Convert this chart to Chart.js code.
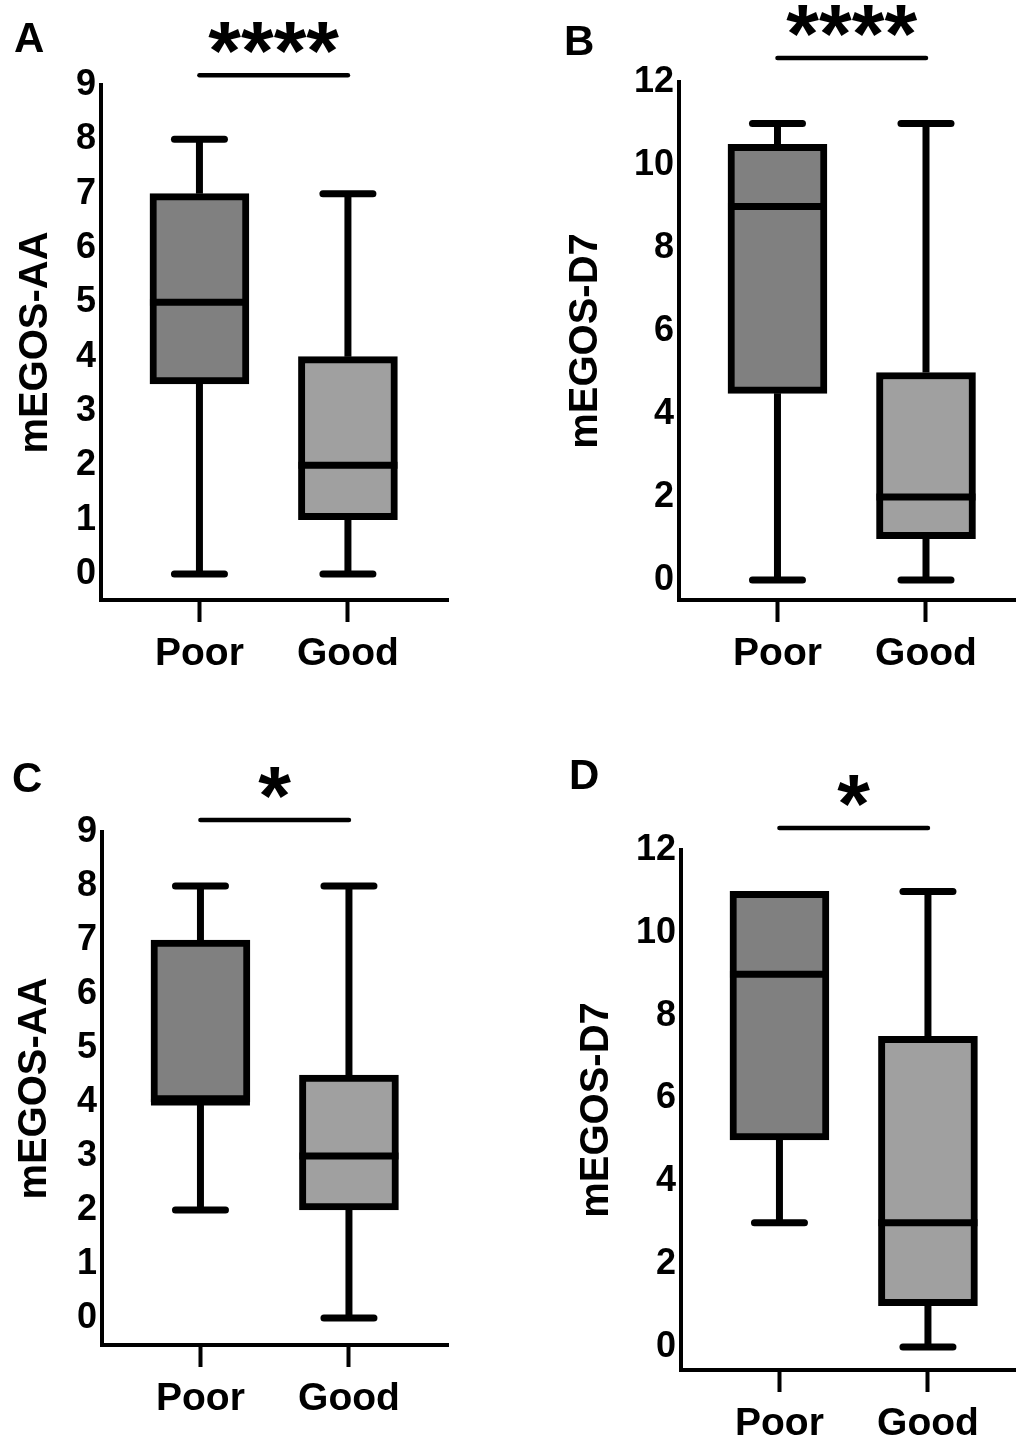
<!DOCTYPE html>
<html>
<head>
<meta charset="utf-8">
<script src="https://cdn.jsdelivr.net/npm/chart.js@4.4.1/dist/chart.umd.min.js"></script>
<style>
  html, body { margin: 0; padding: 0; background: #fff; }
  body { width: 1016px; height: 1440px; position: relative; overflow: hidden; }
  .panel { position: absolute; width: 508px; height: 720px; }
  .tag { position: absolute; font: bold 42px "Liberation Sans", Arial, sans-serif; line-height: 1; color: #000; }
</style>
</head>
<body>
<div class="panel" style="left:0;top:0"><canvas id="chartA"></canvas></div>
<div class="panel" style="left:508px;top:0"><canvas id="chartB"></canvas></div>
<div class="panel" style="left:0;top:720px"><canvas id="chartC"></canvas></div>
<div class="panel" style="left:508px;top:720px"><canvas id="chartD"></canvas></div>
<div class="tag" style="left:14px;top:17px">A</div>
<div class="tag" style="left:564px;top:20px">B</div>
<div class="tag" style="left:12px;top:757px">C</div>
<div class="tag" style="left:569px;top:754px">D</div>
<script>
// =======================
// Datos
const groups = ["Poor", "Good"];

// A: mEGOS-AA
const minA = [0, 0];
const q1A = [3.5, 1];
const medA = [5, 2];
const q3A = [7, 4];
const maxA = [8, 7];

// B: mEGOS-D7
const minB = [0, 0];
const q1B = [4.5, 1];
const medB = [9, 2];
const q3B = [10.5, 5];
const maxB = [11, 11];

// C: mEGOS-AA
const minC = [2, 0];
const q1C = [4, 2];
const medC = [4, 3];
const q3C = [7, 4.5];
const maxC = [8, 8];

// D: mEGOS-D7
const minD = [3, 0];
const q1D = [5, 1];
const medD = [9, 3];
const q3D = [11, 7.5];
const maxD = [11, 11];

const ticksAA = [0, 1, 2, 3, 4, 5, 6, 7, 8, 9];
const ticksD7 = [0, 2, 4, 6, 8, 10, 12];
const sigLabels = ["****", "****", "*", "*"];

// =======================
// Estilos
const FONT = "'Liberation Sans', Arial, sans-serif";
const fills = ["#808080", "#a0a0a0"];

// whiskers, caps, median and significance bracket
const boxPlugin = {
  id: "boxWhiskers",
  beforeDatasetsDraw(chart, args, o) {
    const { ctx, scales: { x, y } } = chart;
    ctx.save();
    ctx.strokeStyle = "#000";
    ctx.lineWidth = 7;
    o.min.forEach((lo, i) => {
      const px = x.getPixelForValue(i + 1);
      const segs = [[lo, o.q1[i]], [o.q3[i], o.max[i]]];
      segs.forEach(([a, b]) => {
        if (a === b) return;
        ctx.lineCap = "butt";
        ctx.beginPath();
        ctx.moveTo(px, y.getPixelForValue(a));
        ctx.lineTo(px, y.getPixelForValue(b));
        ctx.stroke();
      });
      [[lo, o.q1[i]], [o.max[i], o.q3[i]]].forEach(([v, edge]) => {
        if (v === edge) return;
        const py = y.getPixelForValue(v);
        ctx.lineCap = "round";
        ctx.beginPath();
        ctx.moveTo(px - 25, py);
        ctx.lineTo(px + 25, py);
        ctx.stroke();
      });
    });
    ctx.restore();
  },
  afterDatasetsDraw(chart, args, o) {
    const { ctx, scales: { x, y } } = chart;
    ctx.save();
    ctx.strokeStyle = "#000";
    ctx.lineWidth = 7;
    ctx.lineCap = "butt";
    o.med.forEach((m, i) => {
      const px = x.getPixelForValue(i + 1);
      const py = y.getPixelForValue(m);
      ctx.beginPath();
      ctx.moveTo(px - 49.5, py);
      ctx.lineTo(px + 49.5, py);
      ctx.stroke();
    });
    // bracket
    const x1 = x.getPixelForValue(1);
    const x2 = x.getPixelForValue(2);
    const ly = y.getPixelForValue(o.sigLevel);
    ctx.lineWidth = 4.5;
    ctx.lineCap = "round";
    ctx.beginPath();
    ctx.moveTo(x1, ly);
    ctx.lineTo(x2, ly);
    ctx.stroke();
    ctx.fillStyle = "#000";
    ctx.font = "bold 84px " + FONT;
    ctx.textAlign = "center";
    ctx.textBaseline = "alphabetic";
    ctx.fillText(o.sigText, (x1 + x2) / 2, ly + 5);
    ctx.restore();
  },
};

function makeBox(id, p) {
  const el = document.getElementById(id);
  if (!el) return;
  new Chart(el, {
    type: "bar",
    data: {
      datasets: [
        {
          data: groups.map((g, i) => ({ x: i + 1, y: [p.q1[i], p.q3[i]] })),
          backgroundColor: fills,
          borderColor: "#000",
          borderWidth: 7,
          borderSkipped: false,
          barThickness: 99,
        },
      ],
    },
    options: {
      responsive: true,
      maintainAspectRatio: false,
      animation: { duration: 0 },
      layout: { padding: { top: p.top, right: p.right, left: 0, bottom: 0 } },
      plugins: {
        legend: { display: false },
        tooltip: { enabled: false },
        boxWhiskers: {
          min: p.min, q1: p.q1, med: p.med, q3: p.q3, max: p.max,
          sigLevel: p.sigLevel, sigText: p.sigText,
        },
      },
      scales: {
        x: {
          type: "linear",
          offset: false,
          min: p.xMin,
          max: p.xMax,
          afterBuildTicks: (s) => { s.ticks = groups.map((g, i) => ({ value: i + 1 })); },
          afterFit: (s) => { s.height = p.xHeight; },
          grid: {
            display: true, offset: false, drawOnChartArea: false, drawTicks: true,
            tickLength: 22, tickWidth: 4, tickColor: "#000",
          },
          border: { display: true, color: "#000", width: 4 },
          ticks: {
            color: "#000", padding: 9, autoSkip: false, maxRotation: 0,
            font: { family: FONT, size: 39, weight: "bold" },
            callback: (v) => groups[v - 1],
          },
        },
        y: {
          min: p.yMin,
          max: p.yMax,
          afterBuildTicks: (s) => { s.ticks = p.ticks.map((v) => ({ value: v })); },
          afterFit: (s) => { s.width = p.axisX; },
          grid: { display: false, drawTicks: false },
          border: { display: true, color: "#000", width: 4 },
          ticks: {
            color: "#000", padding: 5,
            font: { family: FONT, size: 36, weight: "bold" },
          },
          title: {
            display: true, text: p.title, color: "#000",
            font: { family: FONT, size: 40, weight: "bold" },
            padding: { top: p.titlePad, bottom: 0 },
          },
        },
      },
    },
    plugins: [boxPlugin],
  });
}

makeBox("chartA", {
  min: minA, q1: q1A, med: medA, q3: q3A, max: maxA,
  ticks: ticksAA, title: "mEGOS-AA", sigText: sigLabels[0], sigLevel: 9.18,
  yMin: -0.479, yMax: 9, xMin: 0.337, xMax: 2.674,
  top: 85, right: 60, axisX: 101, xHeight: 120, titlePad: 12,
});
makeBox("chartB", {
  min: minB, q1: q1B, med: medB, q3: q3B, max: maxB,
  ticks: ticksD7, title: "mEGOS-D7", sigText: sigLabels[1], sigLevel: 12.58,
  yMin: -0.48, yMax: 12, xMin: 0.337, xMax: 2.606,
  top: 82, right: 0, axisX: 171, xHeight: 120, titlePad: 54,
});
makeBox("chartC", {
  min: minC, q1: q1C, med: medC, q3: q3C, max: maxC,
  ticks: ticksAA, title: "mEGOS-AA", sigText: sigLabels[2], sigLevel: 9.22,
  yMin: -0.5, yMax: 9, xMin: 0.337, xMax: 2.667,
  top: 112, right: 60, axisX: 102, xHeight: 95, titlePad: 11,
});
makeBox("chartD", {
  min: minD, q1: q1D, med: medD, q3: q3D, max: maxD,
  ticks: ticksD7, title: "mEGOS-D7", sigText: sigLabels[3], sigLevel: 12.53,
  yMin: -0.555, yMax: 12, xMin: 0.337, xMax: 2.593,
  top: 130, right: 0, axisX: 173, xHeight: 70, titlePad: 65,
});
</script>
</body>
</html>
